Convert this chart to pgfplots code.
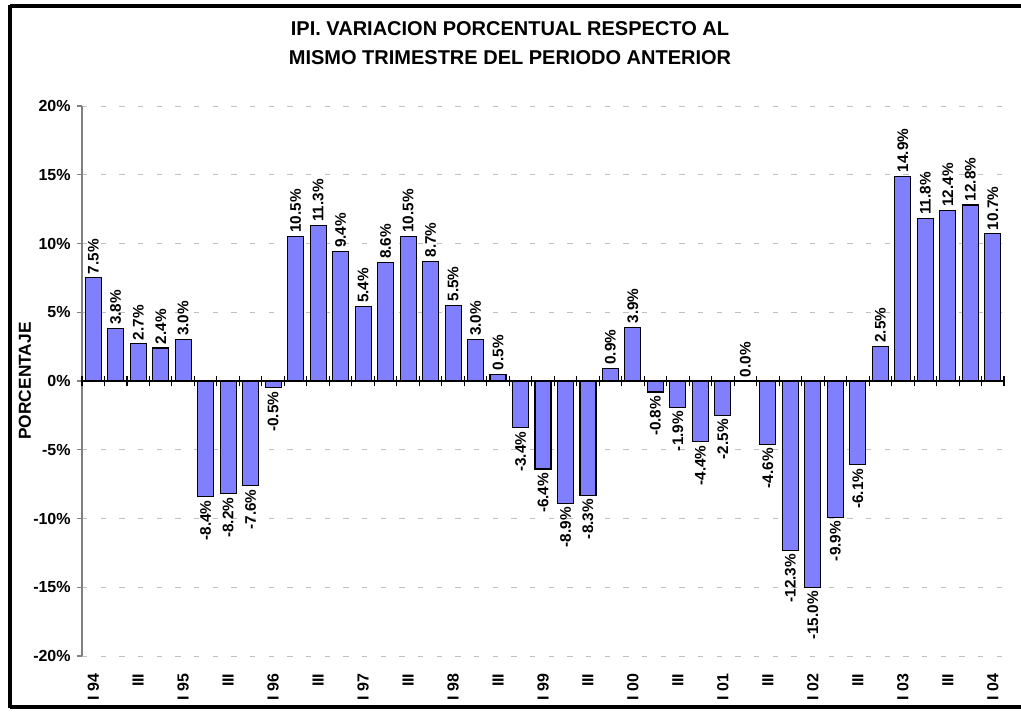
\documentclass[border=0pt]{standalone}
\usepackage{pgfplots}
\pgfplotsset{compat=1.18}
\usepackage{fontspec}
\setmainfont{Liberation Sans}
\definecolor{barblue}{HTML}{8080FF}
\definecolor{axgray}{HTML}{808080}
\definecolor{gridgray}{HTML}{C0C0C0}
\begin{document}
\begin{tikzpicture}[x=0.75pt,y=0.75pt]
\useasboundingbox (0,0) rectangle (1021,711);
\fill[white] (0,0) rectangle (1021,711);
% outer frame
\draw[black,line width=3pt] (10,705) -- (1022,705);
\draw[black,line width=3pt] (10,4) -- (1022,4);
\draw[black,line width=3pt] (10,3) -- (10,706);
% title
\node[font=\fontsize{15}{17}\selectfont\bfseries] at (510,682) {IPI. VARIACION PORCENTUAL RESPECTO AL};
\node[font=\fontsize{15}{17}\selectfont\bfseries] at (510,653) {MISMO TRIMESTRE DEL PERIODO ANTERIOR};
% y label
\node[font=\fontsize{13}{15}\selectfont\bfseries,rotate=90] at (25,330) {PORCENTAJE};
\coordinate (axsw) at (82,55);
\begin{axis}[
  at={(axsw)}, anchor=south west,
  scale only axis, width=691.5pt, height=412.5pt,
  xmin=-0.5, xmax=40.5, ymin=-20, ymax=20,
  clip=false,
  axis x line*=bottom,
  x axis line style={draw=none},
  axis y line*=left,
  y axis line style={axgray, line width=0.8pt, -},
  xtick={0,2,...,40},
  xticklabels={I 94,III,I 95,III,I 96,III,I 97,III,I 98,III,I 99,III,I 00,III,I 01,III,I 02,III,I 03,III,I 04},
  xticklabel style={font=\fontsize{12}{14}\selectfont\bfseries, rotate=90, anchor=east, inner sep=0pt, xshift=-9pt},
  xtick style={draw=none},
  ytick={-20,-15,...,20},
  yticklabel={\pgfmathprintnumber{\tick}\%},
  /pgf/number format/assume math mode=true,
  yticklabel style={font=\fontsize{12}{14}\selectfont\bfseries, xshift=-1pt},
  tick align=outside,
  ytick style={axgray, line width=0.8pt},
  major tick length=4pt,
  ymajorgrids,
  grid style={gridgray, line width=0.7pt, dash pattern=on 4pt off 10pt},
  ybar, bar width=12pt, bar shift=0pt,
  nodes near coords={\pgfmathprintnumber[fixed,fixed zerofill,precision=1]{\pgfplotspointmeta}\%},
  every node near coord/.append style={font=\fontsize{11.5}{13}\selectfont\bfseries, rotate=90, black, inner sep=2.5pt},
]
\draw[black,line width=1pt] (axis cs:-0.5,0) -- (axis cs:40.5,0);
\pgfplotsinvokeforeach{-0.5,0.5,1.5,2.5,3.5,4.5,5.5,6.5,7.5,8.5,9.5,10.5,11.5,12.5,13.5,14.5,15.5,16.5,17.5,18.5,19.5,20.5,21.5,22.5,23.5,24.5,25.5,26.5,27.5,28.5,29.5,30.5,31.5,32.5,33.5,34.5,35.5,36.5,37.5,38.5,39.5,40.5}{
  \draw[black,line width=0.8pt] ([yshift=-4pt]axis cs:#1,0) -- ([yshift=4pt]axis cs:#1,0);
}
\addplot[fill=barblue, draw=black, line width=0.8pt, nodes near coords style={anchor=west}] coordinates {
(0,7.5) (1,3.8) (2,2.7) (3,2.4) (4,3.0)
(9,10.5) (10,11.3) (11,9.4) (12,5.4) (13,8.6) (14,10.5) (15,8.7) (16,5.5) (17,3.0) (18,0.5)
(23,0.9) (24,3.9) (29,0.0)
(35,2.5) (36,14.9) (37,11.8) (38,12.4) (39,12.8) (40,10.7)
};
\addplot[fill=barblue, draw=black, line width=0.8pt, nodes near coords style={anchor=east}] coordinates {
(5,-8.4) (6,-8.2) (7,-7.6) (8,-0.5)
(19,-3.4) (20,-6.4) (21,-8.9) (22,-8.3)
(25,-0.8) (26,-1.9) (27,-4.4) (28,-2.5)
(30,-4.6) (31,-12.3) (32,-15.0) (33,-9.9) (34,-6.1)
};
\end{axis}
\end{tikzpicture}
\end{document}
